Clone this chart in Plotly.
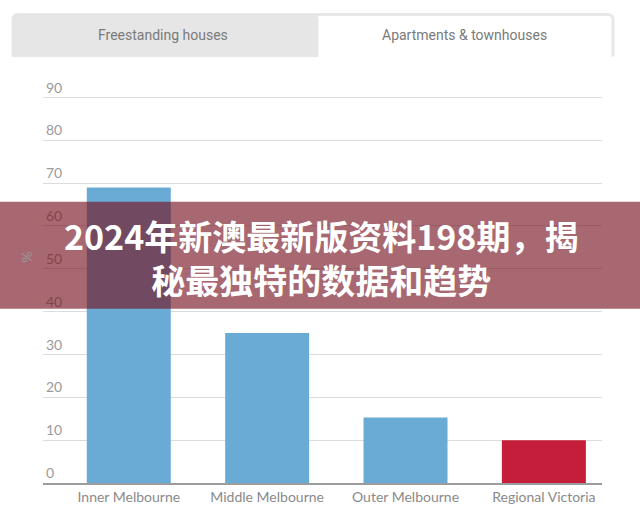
import plotly.graph_objects as go

categories = ["Inner Melbourne", "Middle Melbourne", "Outer Melbourne", "Regional Victoria"]
values = [69, 35, 15.3, 10]
bar_colors = ["#6aabd6", "#6aabd6", "#6aabd6", "#c41e3a"]
y_ticks = [0, 10, 20, 30, 40, 50, 60, 70, 80, 90]
y_tick_labels = ["0", "10", "20", "30", "40", "50", "60", "70", "80", "90"]
tab_labels = ["Freestanding houses", "Apartments & townhouses"]
banner_lines = ["2024年新澳最新版资料198期，揭", "秘最独特的数据和趋势"]
y_title = "%"

W, H = 640, 511
Y_MAX = 95
L, R = 43, 602
B = 483
PX_PER_UNIT = 4.28
T = B - Y_MAX * PX_PER_UNIT

def px(x):
    return (x - L) / (R - L)

def py(y):
    return (B - y) / (B - T)

fig = go.Figure()
fig.add_trace(go.Bar(
    x=list(range(len(categories))), y=values,
    marker=dict(color=bar_colors, line=dict(width=0)),
    width=0.607, hoverinfo="skip",
))

def rrect_path(x0, y0, x1, y1, r):
    X0, X1 = px(x0), px(x1)
    Y0, Y1 = py(y0), py(y1)
    rx = r / (R - L)
    ry = r / (B - T)
    return (f"M {X0},{Y1} L {X0},{Y0 - ry} Q {X0},{Y0} {X0 + rx},{Y0} "
            f"L {X1 - rx},{Y0} Q {X1},{Y0} {X1},{Y0 - ry} L {X1},{Y1}")

shapes = [
    dict(type="path", xref="paper", yref="paper", path=rrect_path(13, 15, 613, 57, 5),
         line=dict(color="#e8e8e8", width=3), fillcolor="rgba(0,0,0,0)", layer="above"),
    dict(type="path", xref="paper", yref="paper", path=rrect_path(13, 15, 318, 57, 5) + " Z",
         line=dict(color="#e6e6e6", width=1), fillcolor="#e6e6e6", layer="above"),
    dict(type="rect", xref="paper", yref="paper", x0=px(0), x1=px(640), y0=py(309), y1=py(202),
         fillcolor="rgba(118,18,33,0.64)", line=dict(width=0), layer="above"),
]

def ann(text, x, y, font, **kw):
    return dict(text=text, xref="paper", yref="paper", x=px(x), y=py(y),
                xanchor="center", yanchor="middle", showarrow=False, font=font, **kw)

tab_font = dict(family="Roboto", size=14, color="#7a7a7a")
banner_font = dict(family="Noto Sans CJK SC", size=34, color="#ffffff")
annotations = [
    ann(tab_labels[0], 163, 35, tab_font),
    ann(tab_labels[1], 465, 35, tab_font),
    ann(y_title, 27, 258, dict(family="Lato", size=14, color="#999999"), textangle=-90),
    ann("<b>" + "<br>".join(banner_lines) + "</b>", 321, 258, banner_font, align="center"),
]

fig.update_layout(
    width=W, height=H,
    margin=dict(l=L, r=W - R, t=T, b=H - B, pad=0, autoexpand=False),
    paper_bgcolor="white", plot_bgcolor="white",
    showlegend=False,
    shapes=shapes, annotations=annotations,
    xaxis=dict(
        range=[-0.62, 3.42], tickmode="array",
        tickvals=list(range(len(categories))), ticktext=categories,
        showgrid=False, zeroline=False, automargin=False,
        showline=True, linecolor="#9c9c9c", linewidth=2,
        ticks="", tickfont=dict(family="Lato", size=14, color="#8a8a8a"),
        fixedrange=True,
    ),
    yaxis=dict(
        range=[0, Y_MAX], tickmode="array", tickvals=y_ticks, ticktext=y_tick_labels,
        ticklabelposition="inside top", showgrid=True, gridcolor="#dcdcdc", gridwidth=1,
        zeroline=False, showline=False, ticks="", automargin=False,
        tickfont=dict(family="Lato", size=14, color="#9a9a9a"),
        fixedrange=True,
    ),
)

fig.write_html(
    "out.html",
    config={"displayModeBar": False},
    post_script="document.body.style.margin='0px';document.body.style.overflow='hidden';",
)
